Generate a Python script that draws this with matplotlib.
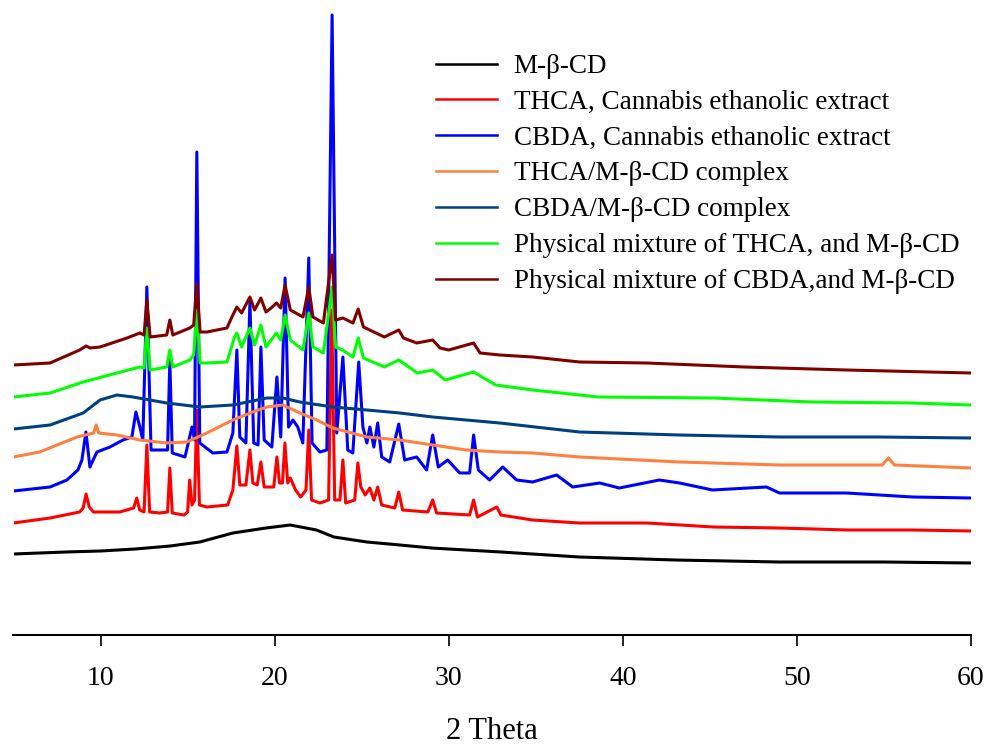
import matplotlib.pyplot as plt
import numpy as np

plt.rcParams['font.family'] = ['Liberation Serif', 'DejaVu Serif']

# XRD patterns (2 theta, intensity above each trace's own baseline)
labels = ['M-\u03b2-CD',
          'THCA, Cannabis ethanolic extract',
          'CBDA, Cannabis ethanolic extract',
          'THCA/M-\u03b2-CD complex',
          'CBDA/M-\u03b2-CD complex',
          'Physical mixture of THCA, and M-\u03b2-CD',
          'Physical mixture of CBDA,and M-\u03b2-CD']
colors = ['black', '#ff0000', '#0000ff', '#ff8040', '#004080', '#00ff00', '#800000']
offsets = [72, 104, 137, 167, 197, 230, 262]

mbcd_tt = [5, 8, 10, 12, 14, 15.7, 17.6, 19.5, 20.9, 22.4, 23.4, 25.3, 27.2, 29, 31, 33,
           37.5, 43, 49, 55, 60]
mbcd_i = [9, 11, 12, 14, 17, 21, 30, 35, 38, 33, 26, 21, 18, 15, 13, 11, 6, 3, 1, 1, 0]

thca_tt = [5.0, 7.1, 8.8, 9.0, 9.17, 9.35, 9.6, 11.1, 11.9, 12.08, 12.25, 12.5, 12.66, 12.82,
           13.4, 13.85, 13.98, 14.12, 14.8, 15.0, 15.12, 15.25, 15.4, 15.53, 15.68, 16.1,
           17.3, 17.6, 17.83, 18.0, 18.35, 18.58, 18.75, 19.0, 19.21, 19.4, 19.95, 20.13,
           20.28, 20.45, 20.59, 20.75, 20.9, 21.2, 21.5, 21.8, 21.96, 22.12, 22.6, 23.1,
           23.28, 23.45, 23.75, 23.92, 24.08, 24.6, 24.78, 24.95, 25.2, 25.47, 25.7, 25.92,
           26.15, 26.9, 27.13, 27.35, 28.8, 29.08, 29.3, 31.2, 31.43, 31.65, 32.76, 33.0,
           34.8, 37.5, 41.4, 45.2, 49, 52.9, 56.6, 60]
thca_i = [8, 13, 19, 23, 37, 24, 19, 19, 23, 33, 21, 19, 86, 19,
          18, 19, 63, 18, 16, 19, 51, 26, 31, 121, 26, 24,
          26, 41, 85, 46, 46, 81, 48, 46, 69, 44, 44, 74,
          48, 48, 88, 48, 53, 41, 34, 41, 101, 31, 28, 31,
          221, 31, 31, 71, 28, 31, 68, 44, 36, 43, 31, 44,
          26, 23, 39, 21, 19, 31, 18, 16, 31, 14, 24, 16,
          11, 8, 8, 4, 3, 1, 1, 0]

cbda_tt = [5.0, 7.1, 8.07, 8.7, 8.93, 9.16, 9.39, 9.79, 10.54, 11.29, 11.8, 12.03, 12.26,
           12.43, 12.66, 12.9, 13.58, 13.85, 13.98, 14.12, 14.85, 15.25, 15.4, 15.53, 15.7,
           16.45, 17.26, 17.6, 17.83, 18.0, 18.35, 18.58, 18.8, 19.05, 19.21, 19.4, 19.84,
           20.13, 20.35, 20.6, 20.8, 21.05, 21.33, 21.62, 21.96, 22.15, 22.6, 23.0, 23.3,
           23.57, 23.92, 24.2, 24.49, 24.83, 25.07, 25.3, 25.47, 25.7, 25.92, 26.15, 26.61,
           27.13, 27.47, 28.16, 28.73, 29.08, 29.4, 29.94, 30.63, 31.2, 31.43, 31.7, 32.35,
           33.1, 33.9, 34.82, 36.2, 37.12, 38.67, 39.8, 42.1, 43.26, 45.15, 48.25, 49.0,
           52.85, 56.64, 60]
cbda_i = [7, 11, 18, 28, 38, 66, 31, 46, 51, 58, 61, 86, 71,
          58, 211, 48, 48, 48, 138, 45, 41, 71, 58, 346, 55,
          45, 46, 65, 148, 61, 55, 196, 55, 53, 151, 58, 51,
          121, 61, 220, 71, 78, 71, 55, 240, 55, 46, 48, 483,
          65, 141, 48, 45, 136, 71, 55, 71, 51, 75, 41, 36,
          74, 38, 41, 28, 63, 31, 38, 25, 25, 63, 28, 18,
          31, 18, 16, 23, 11, 15, 10, 18, 15, 8, 11, 5,
          5, 1, 0]

thca_cx_tt = [5, 6.5, 7.5, 8.65, 9.6, 9.75, 9.9, 10.94, 12.26, 13.81, 14.96, 16.1, 17.6,
              18.74, 19.55, 20.47, 21.45, 22.42, 23.34, 25.3, 27.19, 29.08, 31.0, 32.93,
              34.82, 37.52, 43.26, 49.0, 54.9, 55.26, 55.6, 60]
thca_cx_i = [11, 16, 23, 31, 35, 43, 35, 33, 28, 25, 26, 35, 48,
             56, 61, 63, 55, 48, 40, 31, 28, 23, 18, 16,
             15, 11, 6, 3, 3, 10, 3, 0]

cbda_cx_tt = [5, 7.1, 9.0, 9.97, 10.94, 11.86, 12.83, 13.81, 15.7, 17.6, 19.55, 20.47,
              21.45, 23.34, 25.3, 27.19, 29.08, 31.0, 32.93, 37.52, 43.26, 49.0, 54.74, 60]
cbda_cx_i = [9, 13, 25, 38, 43, 41, 38, 35, 31, 33, 40, 40,
             36, 31, 28, 25, 21, 18, 15, 6, 3, 1, 1, 0]

mix_thca_tt = [5, 7.1, 9.0, 10.94, 12.26, 12.5, 12.66, 12.85, 13.8, 13.98, 14.15, 15.13,
               15.35, 15.53, 15.72, 16.11, 17.26, 17.7, 17.83, 18.1, 18.58, 18.85, 19.21,
               19.5, 20.1, 20.35, 20.6, 20.9, 21.63, 21.96, 22.2, 22.8, 23.3, 23.5, 23.9,
               24.5, 24.8, 25.1, 26.3, 27.13, 28.2, 29.08, 29.8, 31.43, 32.7, 34.82, 38.6,
               45.15, 50.9, 56.64, 60]
mix_thca_i = [8, 12, 23, 32, 38, 37, 77, 35, 38, 55, 38, 45,
              50, 95, 42, 42, 43, 68, 72, 58, 77, 60, 80,
              58, 72, 65, 90, 65, 55, 92, 58, 52, 118, 58, 55,
              48, 67, 47, 38, 45, 32, 35, 25, 33, 20, 15, 8,
              7, 3, 2, 0]

mix_cbda_tt = [5, 7.1, 8.8, 9.17, 9.4, 9.97, 11.52, 12.26, 12.5, 12.66, 12.85, 13.8, 13.98,
               14.15, 15.13, 15.35, 15.53, 15.72, 16.11, 17.26, 17.6, 17.83, 18.1, 18.58,
               18.85, 19.21, 19.5, 19.8, 20.1, 20.35, 20.6, 20.9, 21.63, 21.96, 22.2, 22.8,
               23.3, 23.5, 23.92, 24.5, 24.8, 25.1, 26.3, 27.13, 27.4, 28.16, 29.08, 29.5,
               30.0, 31.43, 31.8, 32.93, 34.82, 37.52, 41.37, 47.0, 52.85, 60]
mix_cbda_i = [8, 10, 23, 27, 25, 26, 35, 40, 38, 73, 36, 38, 53,
              38, 45, 48, 90, 41, 41, 45, 58, 66, 60, 76,
              63, 75, 61, 65, 70, 65, 88, 63, 56, 86, 56, 50,
              118, 53, 55, 50, 64, 46, 36, 43, 35, 30, 33, 25,
              23, 30, 20, 18, 16, 11, 10, 6, 3, 0]

series = [(mbcd_tt, mbcd_i), (thca_tt, thca_i), (cbda_tt, cbda_i), (thca_cx_tt, thca_cx_i),
          (cbda_cx_tt, cbda_cx_i), (mix_thca_tt, mix_thca_i), (mix_cbda_tt, mix_cbda_i)]

fig = plt.figure(figsize=(9.85, 7.45), dpi=100)
ax = fig.add_axes([13.5 / 985, 110 / 745, 957.5 / 985, 635 / 745])

for (tt, inten), off, c, lab in zip(series, offsets, colors, labels):
    ax.plot(tt, np.array(inten) + off, color=c, lw=2.2, label=lab)

ax.set_xlim(5, 60)
ax.set_ylim(0, 635)
ax.set_xticks([10, 20, 30, 40, 50, 60])
ax.set_yticks([])
for s in ['top', 'right', 'left']:
    ax.spines[s].set_visible(False)
ax.spines['bottom'].set_linewidth(1.5)
ax.tick_params(axis='x', direction='out', length=8, width=1.2, pad=14, labelsize=20)

# axis title near the bottom edge, as in the reference
fig.text(492 / 985, 6 / 745, '2 Theta', fontsize=22, ha='center', va='baseline')

leg = ax.legend(loc='upper left', bbox_to_anchor=(436 / 985, 1 - 54 / 745),
                bbox_transform=fig.transFigure, frameon=False, fontsize=19.5,
                handlelength=2.27, handletextpad=0.6, labelspacing=0.4,
                borderpad=0, borderaxespad=0)
for line in leg.get_lines():
    line.set_linewidth(1.8)

fig.savefig('out.png', dpi=100)
